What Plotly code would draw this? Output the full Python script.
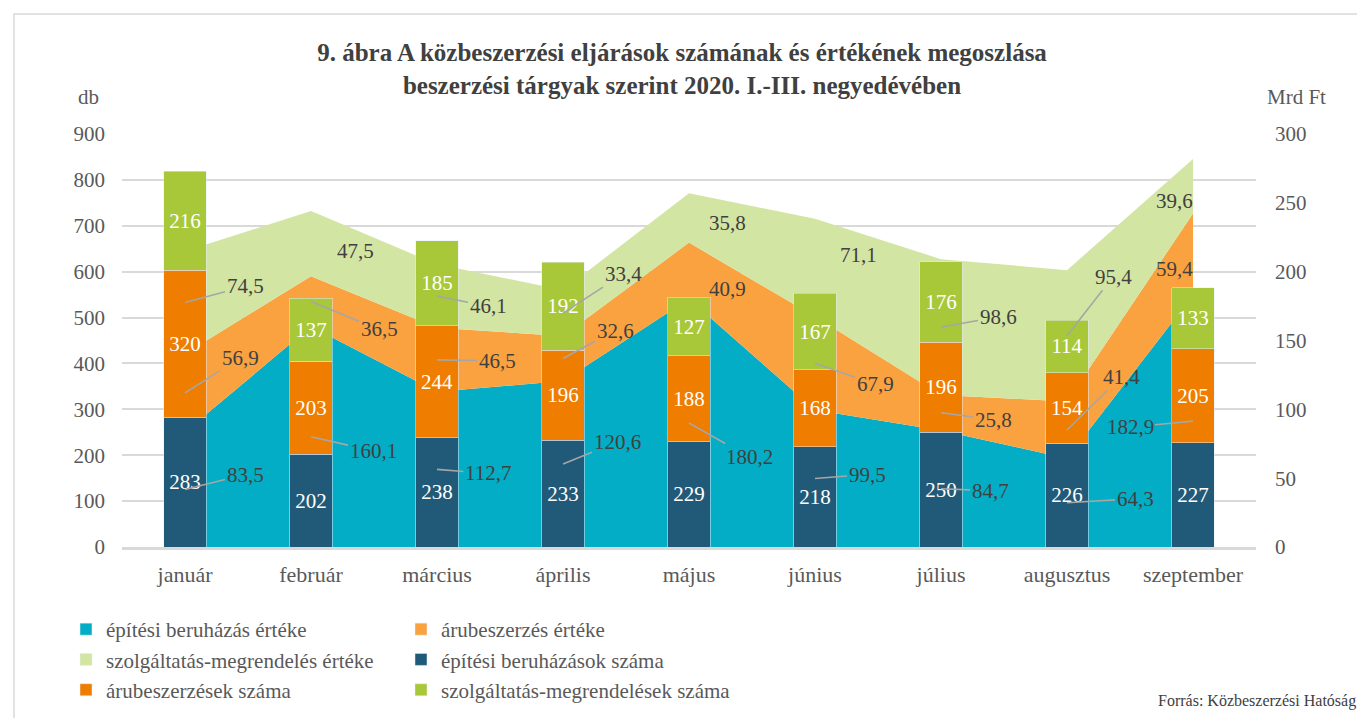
import plotly.graph_objects as go

months = ["január", "február", "március", "április", "május", "június", "július", "augusztus", "szeptember"]

# Values (Mrd Ft) – stacked areas, right axis
epitesi_ertek = [83.5, 160.1, 112.7, 120.6, 180.2, 99.5, 84.7, 64.3, 182.9]
aru_ertek = [56.9, 36.5, 46.5, 32.6, 40.9, 67.9, 25.8, 41.4, 59.4]
szolg_ertek = [74.5, 47.5, 46.1, 33.4, 35.8, 71.1, 98.6, 95.4, 39.6]

# Counts (db) – stacked bars, left axis
epitesi_db = [283, 202, 238, 233, 229, 218, 250, 226, 227]
aru_db = [320, 203, 244, 196, 188, 168, 196, 154, 205]
szolg_db = [216, 137, 185, 192, 127, 167, 176, 114, 133]

FONT = "Liberation Serif"
C_TEAL, C_LORANGE, C_LGREEN = "#03ADC6", "#FAA23F", "#D3E5A3"
C_DBLUE, C_ORANGE, C_GREEN = "#215A78", "#EE7D00", "#A8C83A"

# page body has an 8px margin: work in reference-pixel coordinates and shift
OFF = 8
W, H = 1365 - OFF, 718 - OFF
L, T = 122 - OFF, 134 - OFF
R = W - (1256 - OFF)
B = H - (547 - OFF)
PW, PH = W - L - R, H - T - B


def px(xp):
    return (xp - OFF - L) / PW


def py(yp):
    return 1 - (yp - OFF - T) / PH


fig = go.Figure()

areas = [
    ("építési beruházás értéke", epitesi_ertek, C_TEAL, "legend"),
    ("árubeszerzés értéke", aru_ertek, C_LORANGE, "legend2"),
    ("szolgáltatás-megrendelés értéke", szolg_ertek, C_LGREEN, "legend"),
]
for name, vals, col, lg in areas:
    fig.add_trace(go.Scatter(x=months, y=vals, name=name, stackgroup="one", mode="none",
                             fillcolor=col, yaxis="y", showlegend=False, hoverinfo="y+name"))

# legend-only square swatches for the area series
for name, vals, col, lg in areas:
    fig.add_trace(go.Bar(x=[None], y=[None], name=name, marker_color=col, yaxis="y2",
                         legend=lg, hoverinfo="skip"))

bars = [
    ("építési beruházások száma", epitesi_db, C_DBLUE, "legend2"),
    ("árubeszerzések száma", aru_db, C_ORANGE, "legend"),
    ("szolgáltatás-megrendelések száma", szolg_db, C_GREEN, "legend2"),
]
for name, vals, col, lg in bars:
    fig.add_trace(go.Bar(x=months, y=vals, name=name, marker_color=col, yaxis="y2", legend=lg,
                         text=vals, texttemplate="%{y}", textposition="inside",
                         insidetextanchor="middle", constraintext="none",
                         textfont=dict(color="white", size=21, family=FONT)))

# Area data labels: (dx, dy, leader line) placement offsets in pixels
label_offsets = [
    [(60, -15, True), (62, 14, True), (51, 4, True), (54, -22, True), (60, 34, True),
     (52, -4, True), (49, 2, True), (68, -4, True), (-63, 6, True)],
    [(55, -35, True), (68, 28, True), (60, 1, True), (52, -28, True), (38, 18, False),
     (60, 21, True), (52, 7, True), (54, -53, True), (-19, 15, False)],
    [(60, -16, True), (44, 7, False), (51, 10, True), (60, -39, True), (38, 5, False),
     (43, -13, False), (57, -10, True), (46, -59, True), (-19, 15, False)],
]
annotations = []
base = [0.0] * len(months)
for (name, vals, col, lg), offs in zip(areas, label_offsets):
    for i, m in enumerate(months):
        mid = base[i] + vals[i] / 2
        txt = f"{vals[i]:.1f}".replace(".", ",")
        dx, dy, leader = offs[i]
        a = dict(x=m, y=mid, xref="x", yref="y", text=txt,
                 font=dict(size=21, family=FONT, color="#404040"))
        if leader:
            a.update(showarrow=True, ax=dx, ay=dy, arrowhead=0, arrowwidth=1.6,
                     arrowcolor="#A6A6A6", standoff=0, startstandoff=0)
        else:
            a.update(showarrow=False, xshift=dx, yshift=-dy)
        annotations.append(a)
    base = [b + v for b, v in zip(base, vals)]

annotations += [
    dict(x=px(88), y=py(97), xref="paper", yref="paper", text="db", showarrow=False,
         xanchor="center", yanchor="middle",
         font=dict(size=21, family=FONT, color="#595959")),
    dict(x=px(1296), y=py(97), xref="paper", yref="paper", text="Mrd Ft", showarrow=False,
         xanchor="center", yanchor="middle",
         font=dict(size=21, family=FONT, color="#595959")),
    dict(x=px(1358), y=py(701), xref="paper", yref="paper", text="Forrás: Közbeszerzési Hatóság",
         showarrow=False, xanchor="right", yanchor="middle",
         font=dict(size=16, family=FONT, color="#404040")),
]

fig.update_layout(
    width=W, height=H,
    margin=dict(l=L, r=R, t=T, b=B, autoexpand=False),
    paper_bgcolor="white", plot_bgcolor="white",
    font=dict(family=FONT, color="#595959"),
    title=dict(text="<b>9. ábra A közbeszerzési eljárások számának és értékének megoszlása<br>"
                    "beszerzési tárgyak szerint 2020. I.-III. negyedévében</b>",
               x=(682 - OFF) / W, xanchor="center", y=1 - (61 - OFF) / H, yanchor="middle",
               font=dict(size=25, family=FONT, color="#404040")),
    barmode="stack", bargap=0.666,
    xaxis=dict(showline=True, linecolor="#D9D9D9", linewidth=3, ticks="",
               tickfont=dict(size=22, family=FONT, color="#595959"), ticklabelstandoff=6),
    yaxis=dict(side="right", range=[0, 300], dtick=50, showgrid=False, zeroline=False,
               tickfont=dict(size=21, family=FONT, color="#595959"), ticklabelstandoff=18),
    yaxis2=dict(side="left", overlaying="y", range=[0, 900], dtick=100, showgrid=True,
                gridcolor="#D9D9D9", gridwidth=1.5, zeroline=False,
                tickfont=dict(size=21, family=FONT, color="#595959"), ticklabelstandoff=16),
    legend=dict(x=px(66), y=py(609), xanchor="left", yanchor="top", orientation="v",
                traceorder="normal", font=dict(size=21, family=FONT, color="#595959"),
                bgcolor="rgba(0,0,0,0)"),
    legend2=dict(x=px(401), y=py(609), xanchor="left", yanchor="top", orientation="v",
                 traceorder="normal", font=dict(size=21, family=FONT, color="#595959"),
                 bgcolor="rgba(0,0,0,0)"),
    annotations=annotations,
    shapes=[dict(type="rect", xref="paper", yref="paper", x0=px(14), x1=px(1390),
                 y0=py(740), y1=py(14), line=dict(color="#D9D9D9", width=1.5),
                 fillcolor="rgba(0,0,0,0)", layer="below")],
)

fig.write_html("out.html")
